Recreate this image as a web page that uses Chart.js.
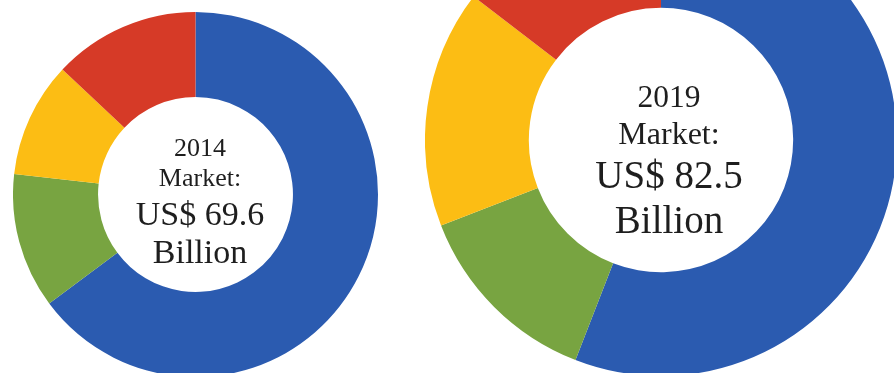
<!DOCTYPE html>
<html>
<head>
<meta charset="utf-8">
<script src="https://cdn.jsdelivr.net/npm/chart.js@4"></script>
<style>
  html, body { margin: 0; padding: 0; background: #ffffff; width: 894px; height: 373px; overflow: hidden; position: relative; }
  canvas { position: absolute; }
  .lbl { position: absolute; width: 300px; text-align: center; font-family: "Liberation Serif", "Times New Roman", serif; color: #1e1e1e; line-height: 1; white-space: nowrap; }
</style>
</head>
<body>
<canvas id="c2014" width="365" height="365" style="left:13px; top:12px; width:365px; height:365px;"></canvas>
<canvas id="c2019" width="472" height="472" style="left:425px; top:-96px; width:472px; height:472px;"></canvas>
<div id="t2014"></div>
<div id="t2019"></div>
<script>
// Data (share of market, %)
const segments = ['Segment 1', 'Segment 2', 'Segment 3', 'Segment 4'];
const share2014 = [64.8, 12.0, 10.2, 13.0];
const share2019 = [55.9, 13.2, 16.3, 14.6];
const segmentColors = ['#2b5bb0', '#78a441', '#fcbd14', '#d63a27'];
const labels2014 = ['2014', 'Market:', 'US$ 69.6', 'Billion'];
const labels2019 = ['2019', 'Market:', 'US$ 82.5', 'Billion'];

function makeDonut(id, values, cutout) {
  return new Chart(document.getElementById(id), {
    type: 'doughnut',
    data: {
      labels: segments,
      datasets: [{ data: values, backgroundColor: segmentColors, borderWidth: 0 }]
    },
    options: {
      responsive: false,
      devicePixelRatio: 1,
      animation: false,
      cutout: cutout,
      layout: { padding: 0 },
      plugins: { legend: { display: false }, tooltip: { enabled: false } }
    }
  });
}
makeDonut('c2014', share2014, '53.4%');
makeDonut('c2019', share2019, '56%');

// center texts (font size, baseline y) per line
function placeText(containerId, lines, cx, sizes, baselines) {
  const box = document.getElementById(containerId);
  lines.forEach((txt, i) => {
    const d = document.createElement('div');
    d.className = 'lbl';
    d.textContent = txt;
    const f = sizes[i];
    d.style.fontSize = f + 'px';
    d.style.left = (cx - 150) + 'px';
    d.style.top = (baselines[i] - 0.8375 * f) + 'px';
    box.appendChild(d);
  });
}
placeText('t2014', labels2014, 200, [26, 26, 34, 34], [157, 187, 225, 263]);
placeText('t2019', labels2019, 669, [31.5, 32, 39, 39], [107, 144, 188, 233]);
</script>
</body>
</html>
